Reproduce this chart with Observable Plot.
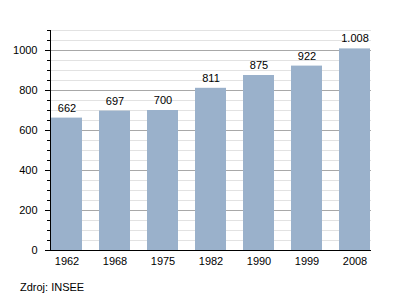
<!DOCTYPE html>
<html>
<head>
<meta charset="utf-8">
<script src="https://cdn.jsdelivr.net/npm/d3@7"></script>
<script src="https://cdn.jsdelivr.net/npm/@observablehq/plot@0.6"></script>
<style>
  html, body { margin: 0; padding: 0; background: #fff; }
  #wrap { position: relative; width: 400px; height: 300px; font-family: "Liberation Sans", Arial, sans-serif; }
  #caption { position: absolute; left: 20px; top: 281px; font-size: 11px; color: #000; }
</style>
</head>
<body>
<div id="wrap"><div id="chart"></div><div id="caption">Zdroj: INSEE</div></div>
<script>
const years = ["1962", "1968", "1975", "1982", "1990", "1999", "2008"];
const population = [662, 697, 700, 811, 875, 922, 1008];
const majorTicks = [0, 200, 400, 600, 800, 1000];
const minorTicks = d3.range(0, 1101, 50);

const data = years.map((y, i) => ({year: y, value: population[i]}));
const fmt = d3.formatLocale({decimal: ",", thousands: ".", grouping: [3], currency: ["", ""]}).format(",d");

const chart = Plot.plot({
  width: 400,
  height: 270,
  marginLeft: 50,
  marginRight: 29,
  marginTop: 30,
  marginBottom: 20,
  style: {fontFamily: "'Liberation Sans', Arial, sans-serif", fontSize: "11px", color: "#000", background: "#fff"},
  x: {domain: years, paddingInner: 0.36, paddingOuter: 0.02, label: null},
  y: {domain: [0, 1100], label: null},
  marks: [
    Plot.ruleY(minorTicks.filter(d => d % 200 !== 0), {stroke: "#e2e2e2", strokeWidth: 1}),
    Plot.ruleY(majorTicks.filter(d => d > 0), {stroke: "#a8a8a8", strokeWidth: 1}),
    Plot.barY(data, {x: "year", y: "value", fill: "#9ab1cb"}),
    Plot.text(data, {x: "year", y: "value", text: d => fmt(d.value), dy: -10, fontSize: 11, fill: "#000"}),
    Plot.axisY({ticks: minorTicks, tickSize: 3, text: null, stroke: "#000", strokeOpacity: 1}),
    Plot.axisY({ticks: majorTicks, tickSize: 5, tickPadding: 8, stroke: "#000", strokeOpacity: 1, tickFormat: d => String(d), label: null, fontSize: 11}),
    Plot.axisX({tickSize: 0, tickPadding: 7, label: null, fontSize: 11}),
    Plot.frame({anchor: "left", stroke: "#000"}),
    Plot.ruleY([0], {stroke: "#000", strokeWidth: 1})
  ]
});
document.getElementById("chart").appendChild(chart);
</script>
</body>
</html>
